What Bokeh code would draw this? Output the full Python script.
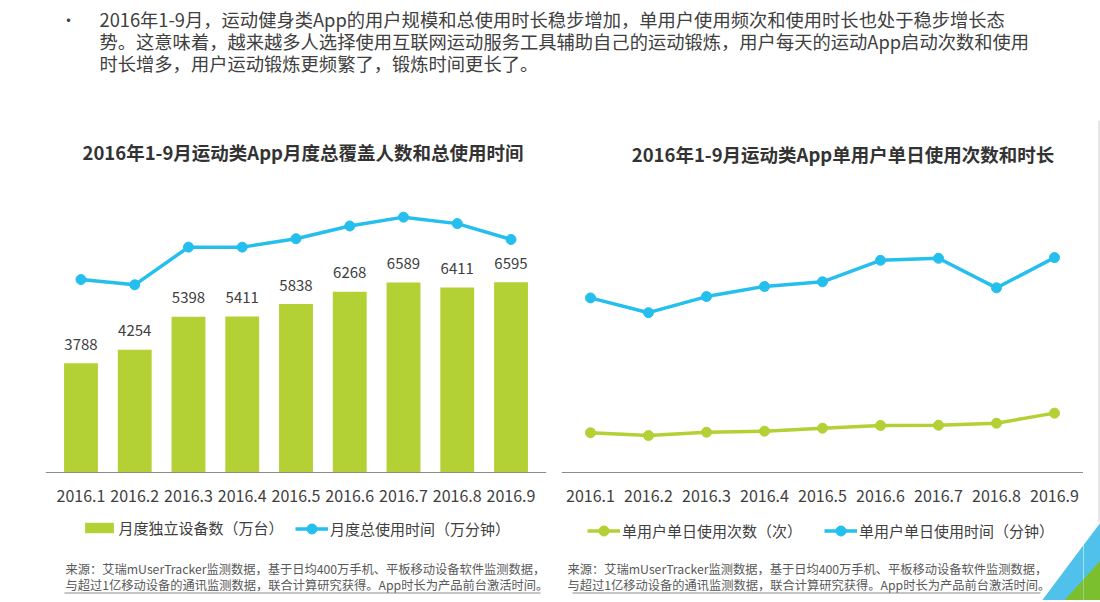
from bokeh.plotting import figure
from bokeh.models import (Range1d, FactorRange, Legend, LegendItem, Label,
                          PolyAnnotation, BoxAnnotation)
from bokeh.layouts import column, row
from bokeh.embed import file_html
from bokeh.resources import INLINE
from bokeh.core.properties import value

# ---------------- data ----------------
months = ["2016.1", "2016.2", "2016.3", "2016.4", "2016.5",
          "2016.6", "2016.7", "2016.8", "2016.9"]
devices = [3788, 4254, 5398, 5411, 5838, 6268, 6589, 6411, 6595]          # 万台
total_time = [80400, 78200, 93900, 93900, 97400, 102700, 106400, 103700, 97100]  # 万分钟 (estimated)
daily_count = [2.96, 2.75, 3.0, 3.08, 3.3, 3.5, 3.52, 3.67, 4.42]          # 次 (estimated)
daily_minutes = [13.0, 11.9, 13.1, 13.85, 14.2, 15.8, 15.95, 13.75, 16.0]  # 分钟 (estimated)

intro_lines = [
    "2016年1-9月，运动健身类App的用户规模和总使用时长稳步增加，单用户使用频次和使用时长也处于稳步增长态",
    "势。这意味着，越来越多人选择使用互联网运动服务工具辅助自己的运动锻炼，用户每天的运动App启动次数和使用",
    "时长增多，用户运动锻炼更频繁了，锻炼时间更长了。",
]
left_title = "2016年1-9月运动类App月度总覆盖人数和总使用时间"
right_title = "2016年1-9月运动类App单用户单日使用次数和时长"
left_legend = ["月度独立设备数（万台）", "月度总使用时间（万分钟）"]
right_legend = ["单用户单日使用次数（次）", "单用户单日使用时间（分钟）"]
source_lines = [
    "来源：艾瑞mUserTracker监测数据，基于日均400万手机、平板移动设备软件监测数据，",
    "与超过1亿移动设备的通讯监测数据，联合计算研究获得。App时长为产品前台激活时间。",
]

FONT = "Noto Sans CJK SC"
GREEN = "#b3d034"
BLUE = "#25bfee"
TEXT = "#404040"
CH_H = 480


def clean(p):
    p.grid.visible = False
    p.outline_line_color = None
    p.background_fill_color = "white"
    p.border_fill_color = "white"


# ---------------- top paragraph ----------------
top = figure(width=1100, height=120, x_range=Range1d(0, 1100), y_range=Range1d(120, 0),
             toolbar_location=None, output_backend="svg", min_border=0, title=None,
             x_axis_location=None, y_axis_location=None)
clean(top)
top.text(x=[60], y=[18], text=["•"], text_font=value(FONT), text_font_size="16px",
         text_color=TEXT, text_baseline="middle")
top.text(x=[99, 99, 99], y=[18, 40, 62], text=intro_lines, text_font=value(FONT),
         text_font_size="18.3px", text_color=TEXT, text_baseline="middle")


def style_axis(p):
    ax = p.xaxis[0]
    ax.fixed_location = 0
    ax.axis_line_color = "#8c8c8c"
    ax.axis_line_width = 1
    ax.major_tick_line_color = None
    ax.minor_tick_line_color = None
    ax.major_label_text_font = FONT
    ax.major_label_text_font_size = "16px"
    ax.major_label_text_color = TEXT
    ax.major_label_standoff = 11


def add_texts(p, title, tx, ty, sx, ul):
    p.add_layout(Label(x=tx, y=ty, x_units="screen", y_units="screen", text=title,
                       text_font=FONT, text_font_size="18.5px", text_font_style="bold",
                       text_color="#333333", text_align="center", text_baseline="middle"))
    for i, t in enumerate(source_lines):
        p.add_layout(Label(x=sx, y=32 - 16 * i, x_units="screen", y_units="screen", text=t,
                           text_font=FONT, text_font_size="12.25px", text_color="#595959",
                           text_baseline="middle"))
    p.add_layout(BoxAnnotation(left=ul[0], right=ul[1], top=8, bottom=7,
                               left_units="screen", right_units="screen",
                               top_units="screen", bottom_units="screen",
                               fill_color="#8c8c8c", fill_alpha=1, line_color=None))


def make_legend(items, loc, gw, gh, standoff, spacing=18):
    return Legend(items=items, location=loc, orientation="horizontal",
                  border_line_color=None, background_fill_alpha=0, padding=0, margin=0,
                  glyph_width=gw, glyph_height=gh, label_height=20,
                  label_standoff=standoff, spacing=spacing,
                  label_text_font=FONT, label_text_font_size="15px",
                  label_text_color=TEXT)


# ---------------- left chart ----------------
left = figure(width=560, height=CH_H,
              x_range=FactorRange(*months, range_padding=0.16, range_padding_units="absolute"),
              y_range=Range1d(-4435, 12200), title=None,
              toolbar_location=None, output_backend="svg", y_axis_location=None,
              min_border_left=45, min_border_right=14, min_border_top=0, min_border_bottom=0)
clean(left)
left.extra_y_ranges = {"t": Range1d(-53333, 146667)}
bars = left.vbar(x=months, top=devices, width=0.63, fill_color=GREEN, line_color=None)
left.text(x=months, y=devices, text=[str(v) for v in devices], text_align="center",
          text_baseline="middle", y_offset=-19, text_font=value(FONT),
          text_font_size="15px", text_color=TEXT)
l_line = left.line(x=months, y=total_time, y_range_name="t", line_color=BLUE, line_width=3.5)
l_pts = left.scatter(x=months, y=total_time, y_range_name="t", size=10,
                     fill_color=BLUE, line_color=BLUE)
style_axis(left)
left.add_layout(make_legend([LegendItem(label=left_legend[0], renderers=[bars])],
                            (36.4, 62), 36, 13, 1))
left.add_layout(make_legend([LegendItem(label=left_legend[1], renderers=[l_line, l_pts])],
                            (250, 59.5), 33, 25, 2))
add_texts(left, left_title, 257.5, 449, 20, (19, 495))

# ---------------- right chart ----------------
right = figure(width=523, height=CH_H, x_range=FactorRange(*months),
               y_range=Range1d(-9.53, 26.21), title=None,
               toolbar_location=None, output_backend="svg", y_axis_location=None,
               min_border_left=1, min_border_right=0, min_border_top=0, min_border_bottom=0)
clean(right)
r_line_g = right.line(x=months, y=daily_count, line_color=GREEN, line_width=3.5)
r_pts_g = right.scatter(x=months, y=daily_count, size=10, fill_color=GREEN, line_color=GREEN)
r_line_b = right.line(x=months, y=daily_minutes, line_color=BLUE, line_width=3.5)
r_pts_b = right.scatter(x=months, y=daily_minutes, size=10, fill_color=BLUE, line_color=BLUE)
style_axis(right)
right.add_layout(make_legend([LegendItem(label=right_legend[0], renderers=[r_line_g, r_pts_g]),
                             LegendItem(label=right_legend[1], renderers=[r_line_b, r_pts_b])],
                            (26, 57.5), 33, 25, 2, spacing=22))
add_texts(right, right_title, 281.5, 447, 6, (11, 479))

# corner decoration (lower right)
right.add_layout(PolyAnnotation(xs=[479, 539, 539], ys=[-2, 78, -2],
                                xs_units="screen", ys_units="screen",
                                fill_color="#4fc1ea", fill_alpha=1, line_color=None))
right.add_layout(PolyAnnotation(xs=[501, 539, 539], ys=[-2, 40, -2],
                                xs_units="screen", ys_units="screen",
                                fill_color="#7bbf2e", fill_alpha=1, line_color=None))

corner = figure(width=17, height=CH_H, x_range=Range1d(1083, 1100), y_range=Range1d(600, 120),
                toolbar_location=None, output_backend="svg", min_border=0, title=None,
                x_axis_location=None, y_axis_location=None)
clean(corner)
corner.segment(x0=[1098.5], y0=[120], x1=[1098.5], y1=[522], line_color="#d0d0d0", line_width=1)
corner.patch(x=[1040, 1100, 1100], y=[602, 522, 602], fill_color="#4fc1ea", line_color=None)
corner.patch(x=[1062, 1100, 1100], y=[602, 560, 602], fill_color="#7bbf2e", line_color=None)

layout = column(top, row(left, right, corner, spacing=0), spacing=0)
open("out.html", "w").write(file_html(layout, INLINE))
